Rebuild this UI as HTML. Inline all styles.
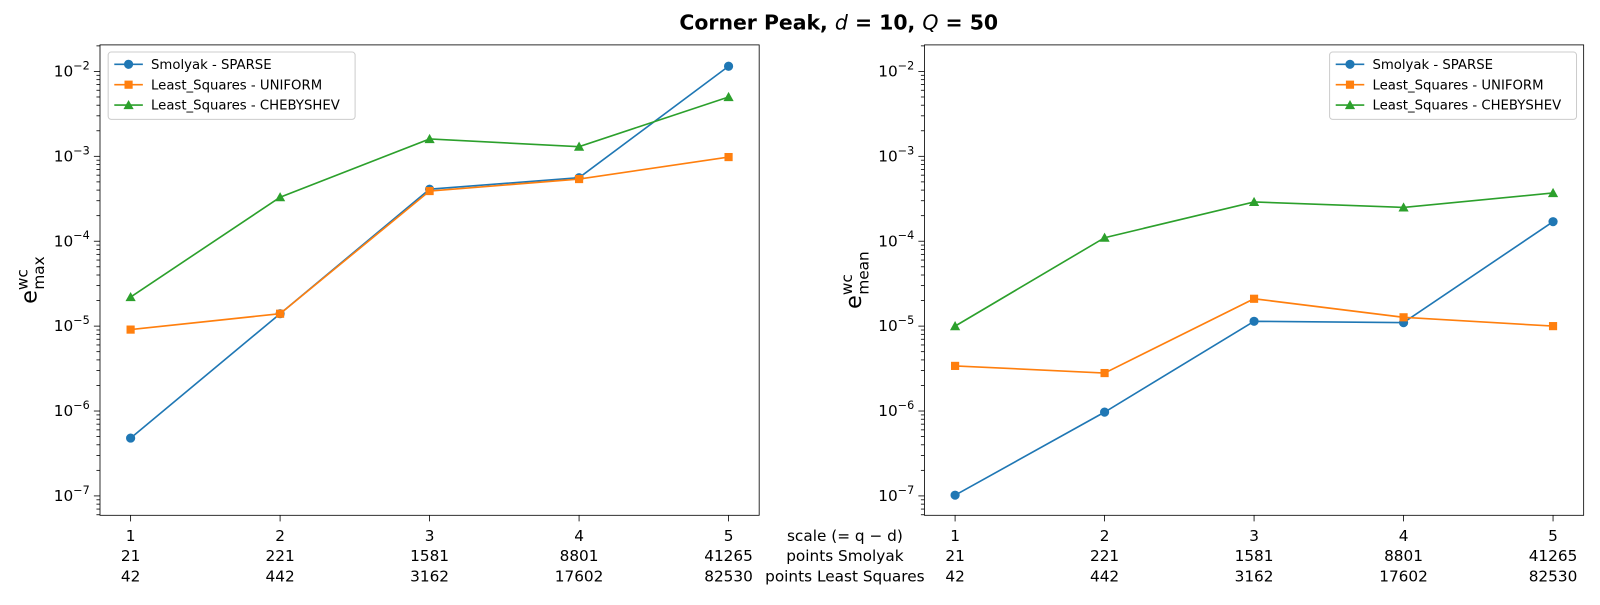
<!DOCTYPE html>
<html><head><meta charset="utf-8"><style>
body{margin:0;background:#fff;}
text{font-family:"DejaVu Sans","Liberation Sans",sans-serif;}
</style></head><body>
<svg width="1600" height="600" xmlns="http://www.w3.org/2000/svg">
<g id="c" transform="scale(1.0204)">
<text x="822" y="29" font-size="20" font-weight="bold" text-anchor="middle">Corner Peak, <tspan font-style="italic" font-weight="normal">d</tspan> = 10, <tspan font-style="italic" font-weight="normal">Q</tspan> = 50</text>
</g>
</svg>
<script>
const scales=[1,2,3,4,5];
const ptsSmolyak=["21","221","1581","8801","41265"];
const ptsLS=["42","442","3162","17602","82530"];
const seriesNames=["Smolyak - SPARSE","Least_Squares - UNIFORM","Least_Squares - CHEBYSHEV"];
const maxSmolyak=[4.8e-7,1.4e-5,4.1e-4,5.6e-4,1.15e-2];
const maxUniform=[9.1e-6,1.4e-5,3.9e-4,5.4e-4,9.8e-4];
const maxCheb=[2.2e-5,3.3e-4,1.6e-3,1.3e-3,5.0e-3];
const meanSmolyak=[1.02e-7,9.7e-7,1.14e-5,1.1e-5,1.7e-4];
const meanUniform=[3.4e-6,2.8e-6,2.1e-5,1.27e-5,1.0e-5];
const meanCheb=[1.0e-5,1.1e-4,2.9e-4,2.5e-4,3.7e-4];
const yTicks=[-7,-6,-5,-4,-3,-2];
const colors=["#1f77b4","#ff7f0e","#2ca02c"];
const NS="http://www.w3.org/2000/svg";
const svg=document.getElementById('c');
function mk(t,a,p){const e=document.createElementNS(NS,t);for(const k in a)e.setAttribute(k,a[k]);(p||svg).appendChild(e);return e;}
function panel(x0,x1,data,ylab,pname,legendRight){
  const y0=44,y1=505;
  const g=mk('g',{});
  
  
  const xs=v=>x0+30+(v-1)*(x1-x0-60)/4;
  const ys=v=>486-(Math.log10(v)+7)*83.2;
  for(let d=-8;d<=-2;d++)for(let m=2;m<=9;m++){const y=ys(m*Math.pow(10,d));if(y>y0&&y<y1)mk('line',{x1:x0-3.5,x2:x0,y1:y,y2:y,stroke:'#000','stroke-width':0.8},g);}
  yTicks.forEach(t=>{const y=ys(Math.pow(10,t));mk('line',{x1:x0-6,x2:x0,y1:y,y2:y,stroke:'#000','stroke-width':0.8},g);
    const tx=mk('text',{x:x0-10,y:y+5,'font-size':15,'text-anchor':'end'},g);tx.innerHTML='10<tspan dy="-7" font-size="11">−'+(-t)+'</tspan>';
    
    });
  scales.forEach((s,i)=>{const x=xs(s);mk('line',{x1:x,x2:x,y1:y1,y2:y1+6,stroke:'#000','stroke-width':0.8},g);
    [String(s),ptsSmolyak[i],ptsLS[i]].forEach((l,j)=>{const t=mk('text',{x:x,y:530+j*20,'font-size':15,'text-anchor':'middle'},g);t.textContent=l;
      
      });});
  data.forEach((ser,k)=>{
    const pl=mk('polyline',{points:ser.map((v,i)=>xs(scales[i])+','+ys(v)).join(' '),fill:'none',stroke:colors[k],'stroke-width':1.6},g);
    
    
    ser.forEach((v,i)=>{const x=xs(scales[i]),y=ys(v);let m;
      if(k==0)m=mk('circle',{cx:x,cy:y,r:4.5,fill:colors[k]},g);
      else if(k==1)m=mk('rect',{x:x-4,y:y-4,width:8,height:8,fill:colors[k]},g);
      else m=mk('polygon',{points:`${x},${y-5} ${x-5},${y+4} ${x+5},${y+4}`,fill:colors[k]},g);
      
      });
  });
  const fr=mk('rect',{x:x0,y:y0,width:x1-x0,height:y1-y0,fill:'none',stroke:'#000','stroke-width':0.8},g);
  
  
  const yl=mk('text',{transform:`translate(${x0-62},${(y0+y1)/2}) rotate(-90)`,'font-size':22,'text-anchor':'middle'},g);
  yl.innerHTML='e<tspan dy="-9" font-size="15">wc</tspan><tspan dy="16" dx="-20" font-size="15">'+ylab+'</tspan>';
  
  
  const lx=legendRight?x1-249:x0+8,ly=y0+7;
  const lg=mk('g',{},g);
  
  
  mk('rect',{x:lx,y:ly,width:242,height:66,rx:3,fill:'#fff',stroke:'#ccc'},lg);
  seriesNames.forEach((n,k)=>{const yy=ly+12+k*20;
    mk('line',{x1:lx+6,x2:lx+34,y1:yy,y2:yy,stroke:colors[k],'stroke-width':1.6},lg);
    const cx=lx+20;
    if(k==0)mk('circle',{cx:cx,cy:yy,r:4.5,fill:colors[k]},lg);
    else if(k==1)mk('rect',{x:cx-4,y:yy-4,width:8,height:8,fill:colors[k]},lg);
    else mk('polygon',{points:`${cx},${yy-5} ${cx-5},${yy+4} ${cx+5},${yy+4}`,fill:colors[k]},lg);
    const t=mk('text',{x:lx+42,y:yy+4.5,'font-size':13},lg);t.textContent=n;
    
    });
}
panel(98,744,[maxSmolyak,maxUniform,maxCheb],'max','left-panel',false);
panel(906,1552,[meanSmolyak,meanUniform,meanCheb],'mean','right-panel',true);
["scale (= q − d)","points Smolyak","points Least Squares"].forEach((l,j)=>{const t=mk('text',{x:828,y:530+j*20,'font-size':15,'text-anchor':'middle'});t.textContent=l;
  
  });
</script>
</body></html>
